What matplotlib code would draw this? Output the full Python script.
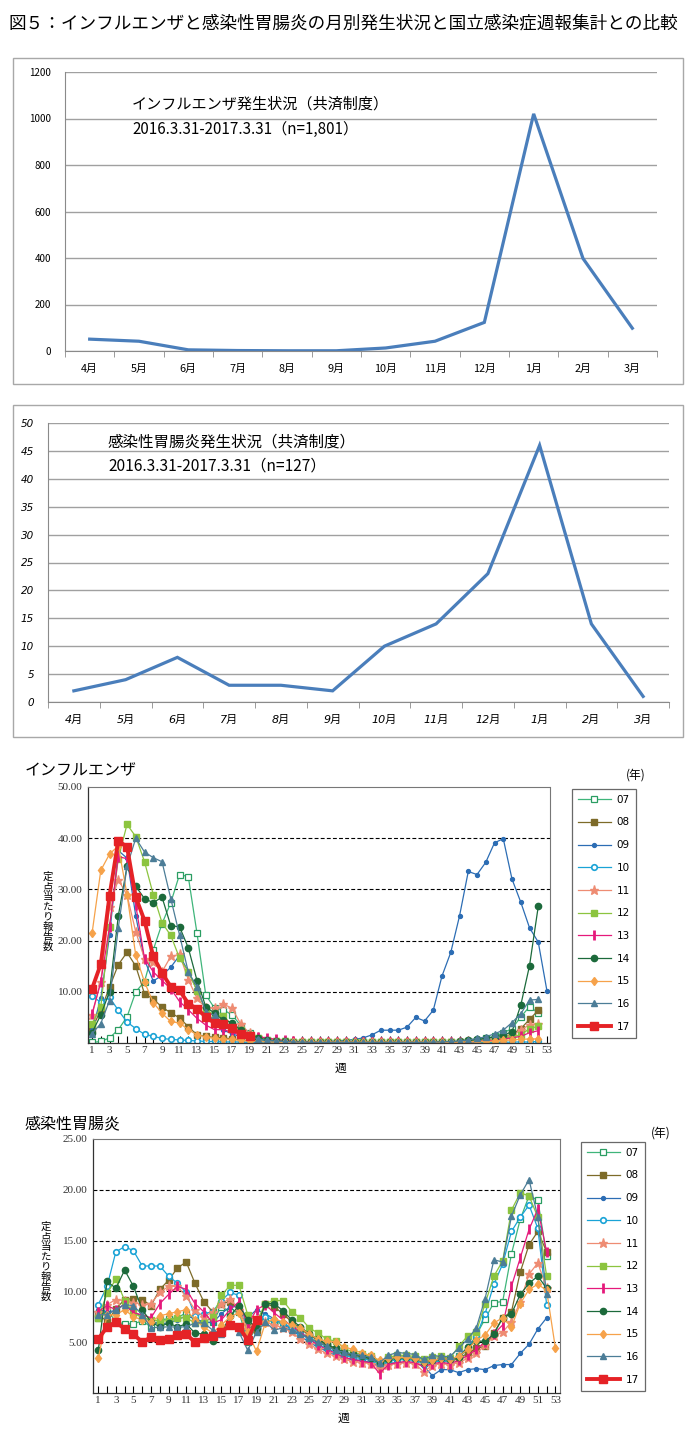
"""
Monthly influenza / gastroenteritis counts vs. national weekly surveillance reports.
"""

import numpy as np
import matplotlib.pyplot as plt
from matplotlib.patches import Rectangle

plt.rcParams['font.family'] = ['Noto Sans CJK JP', 'DejaVu Sans']

W, H = 689, 1454  # output size in pixels (dpi 100)

TITLE = "図５：インフルエンザと感染性胃腸炎の月別発生状況と国立感染症週報集計との比較"

MONTHS = ["4月", "5月", "6月", "7月", "8月", "9月", "10月", "11月", "12月", "1月", "2月", "3月"]
FLU_MONTHLY = [51, 42, 5, 2, 1, 1, 13, 42, 123, 1020, 398, 98]
GAS_MONTHLY = [2, 4, 8, 3, 3, 2, 10, 14, 23, 46, 14, 1]

WEEKS = np.arange(1, 54)
YEARS = ["07", "08", "09", "10", "11", "12", "13", "14", "15", "16", "17"]

# Influenza, reports per sentinel, week 1..53
FLU_07 = [0.1, 0.3, 1.0, 2.6, 5.1, 10.0, 12.0, 18.2, 23.3, 27.4, 32.9, 32.5, 21.4, 9.4, 6.8, 6.5, 5.5, 3.4, 1.9,
          1.0, 0.6, 0.4, 0.3, 0.2, 0.2, 0.1, 0.1, 0.1, 0.1, 0.1, 0.1, 0.1, 0.1, 0.1, 0.1, 0.1, 0.1, 0.1, 0.1, 0.1,
          0.1, 0.2, 0.2, 0.3, 0.6, 0.9, 1.3, 2.0, 2.8, 5.1, 7.1, 5.9]
FLU_08 = [2.8, 6.4, 10.9, 15.3, 17.7, 15.0, 9.6, 8.6, 7.0, 5.9, 4.9, 3.2, 1.6, 1.3, 1.1, 1.0, 0.8, 0.6, 0.4,
          0.3, 0.2, 0.2, 0.1, 0.1, 0.1, 0.1, 0.1, 0.1, 0.1, 0.1, 0.1, 0.1, 0.1, 0.1, 0.1, 0.1, 0.1, 0.1, 0.1, 0.1,
          0.1, 0.1, 0.2, 0.2, 0.3, 0.4, 0.6, 1.0, 1.7, 2.8, 4.6, 6.4]
FLU_09 = [2.5, 8.7, 21.0, 37.6, 36.1, 24.8, 16.2, 12.1, 13.2, 14.8, 17.1, 14.0, 10.3, 6.5, 4.0, 2.5, 1.8, 1.2, 0.8,
          0.5, 0.3, 0.3, 0.2, 0.2, 0.2, 0.2, 0.2, 0.3, 0.4, 0.5, 0.7, 1.0,
          1.6, 2.5, 2.5, 2.5, 3.1, 5.0, 4.3, 6.4, 13.1, 17.7, 24.8, 33.5, 32.9, 35.3, 39.1, 39.9, 32.0, 27.5,
          22.5, 19.7, 10.1]
FLU_10 = [9.1, 8.0, 8.9, 6.4, 4.1, 2.8, 1.7, 1.3, 0.9, 0.7, 0.6, 0.5, 0.4, 0.3, 0.3, 0.2, 0.2, 0.2, 0.1,
          0.1, 0.1, 0.1, 0.1, 0.1, 0.1, 0.1, 0.1, 0.1, 0.1, 0.1, 0.1, 0.1, 0.1, 0.1, 0.1, 0.1, 0.1, 0.1, 0.1, 0.1,
          0.1, 0.1, 0.1, 0.1, 0.1, 0.1, 0.1, 0.1, 0.2, 0.2, 0.2, 0.3]
FLU_11 = [5.4, 12.0, 26.6, 31.9, 28.9, 21.7, 16.5, 15.8, 13.9, 16.9, 17.3, 12.4, 8.7, 6.8, 6.8, 7.6, 6.8, 3.7, 1.9,
          1.2, 0.8, 0.5, 0.4, 0.3, 0.2, 0.2, 0.1, 0.1, 0.1, 0.1, 0.1, 0.1, 0.1, 0.1, 0.1, 0.1, 0.1, 0.1, 0.1, 0.1,
          0.2, 0.2, 0.2, 0.3, 0.4, 0.5, 0.7, 1.0, 1.5, 2.5, 3.6, 3.8]
FLU_12 = [3.8, 7.0, 22.7, 36.0, 42.7, 40.3, 35.4, 29.0, 23.5, 21.0, 16.6, 13.9, 10.2, 6.5, 5.5, 5.3, 3.5, 2.5, 1.5,
          0.9, 0.6, 0.4, 0.3, 0.2, 0.2, 0.1, 0.1, 0.1, 0.1, 0.1, 0.1, 0.1, 0.1, 0.1, 0.1, 0.1, 0.1, 0.1, 0.1, 0.1,
          0.1, 0.2, 0.2, 0.3, 0.3, 0.4, 0.6, 0.9, 1.2, 1.6, 2.8, 3.3]
FLU_13 = [5.7, 11.9, 22.7, 36.4, 36.0, 26.9, 16.5, 13.9, 12.2, 10.6, 8.1, 6.5, 4.8, 3.5, 2.6, 2.6, 2.1, 1.5, 1.1,
          1.2, 1.0, 0.7, 0.5, 0.3, 0.2, 0.2, 0.1, 0.1, 0.1, 0.1, 0.1, 0.1, 0.1, 0.1, 0.1, 0.1, 0.1, 0.1, 0.1, 0.1,
          0.1, 0.1, 0.2, 0.2, 0.3, 0.4, 0.5, 0.8, 1.0, 1.3, 2.0, 2.4]
FLU_14 = [2.0, 5.5, 10.0, 24.8, 34.5, 30.6, 28.2, 27.4, 28.5, 22.9, 22.7, 18.6, 12.2, 7.1, 5.8, 4.5, 4.0, 2.5, 1.5,
          1.0, 0.6, 0.4, 0.3, 0.2, 0.2, 0.1, 0.1, 0.1, 0.1, 0.1, 0.1, 0.1, 0.1, 0.1, 0.1, 0.1, 0.1, 0.1, 0.1, 0.1,
          0.2, 0.2, 0.3, 0.5, 0.7, 0.9, 1.2, 1.5, 2.2, 7.4, 15.1, 26.7]
FLU_15 = [21.4, 33.7, 36.9, 38.5, 29.0, 17.1, 11.9, 7.9, 5.8, 4.2, 3.9, 2.6, 1.6, 1.2, 0.9, 0.8, 0.7, 0.5, 0.4,
          0.3, 0.2, 0.2, 0.1, 0.1, 0.1, 0.1, 0.1, 0.1, 0.1, 0.1, 0.1, 0.1, 0.1, 0.1, 0.1, 0.1, 0.1, 0.1, 0.1, 0.1,
          0.1, 0.1, 0.2, 0.2, 0.3, 0.3, 0.4, 0.5, 0.6, 0.7, 0.8, 0.8]
FLU_16 = [1.8, 3.8, 8.3, 22.5, 34.5, 40.0, 37.3, 36.2, 35.4, 28.2, 21.1, 13.9, 11.0, 6.1, 5.4, 4.0, 3.0, 2.0, 1.3,
          0.8, 0.5, 0.4, 0.3, 0.2, 0.2, 0.1, 0.1, 0.1, 0.1, 0.1, 0.1, 0.1, 0.1, 0.1, 0.1, 0.1, 0.1, 0.1, 0.1, 0.2,
          0.2, 0.3, 0.4, 0.6, 0.9, 1.2, 1.8, 2.5, 4.0, 5.7, 8.4, 8.5]
FLU_17 = [10.6, 15.4, 28.8, 39.5, 38.3, 28.5, 23.9, 16.9, 13.7, 11.0, 10.3, 7.7, 6.7, 5.1, 3.9, 3.8, 2.9, 1.8, 1.3]

# Infectious gastroenteritis, reports per sentinel, week 1..53
GAS_07 = [7.4, 8.2, 7.0, 6.8, 6.8, 7.1, 6.5, 7.2, 7.3, 7.4, 7.9, 7.3, 6.9, 7.0, 8.5, 8.0, 8.0, 5.0, 6.5,
          7.2, 7.0, 6.8, 6.4, 5.9, 5.4, 5.0, 4.6, 4.2, 3.8, 3.6, 3.5, 3.3, 2.9, 3.2, 3.4, 3.4, 3.3, 3.1, 3.2,
          3.3, 3.2, 3.6, 4.2, 5.7, 7.3, 8.9, 9.0, 13.7, 17.1, 19.4, 19.0, 13.5]
GAS_08 = [7.8, 7.0, 8.3, 9.2, 9.3, 9.2, 8.6, 10.2, 11.1, 12.3, 12.9, 10.8, 9.0, 8.0, 8.8, 9.0, 8.1, 6.5, 6.2,
          8.8, 8.5, 7.8, 7.0, 6.3, 5.7, 5.2, 4.7, 4.3, 3.9, 3.7, 3.6, 3.4, 3.0, 3.3, 3.5, 3.4, 3.3, 3.0, 3.1,
          3.2, 3.1, 3.4, 3.9, 4.4, 4.6, 5.9, 7.4, 8.0, 11.9, 14.6, 15.9, 13.9]
GAS_09 = [8.2, 8.0, 8.1, 8.8, 7.9, 7.6, 7.0, 6.8, 6.9, 7.2, 7.6, 7.3, 7.0, 6.9, 7.8, 8.5, 8.5, 7.4, 8.2,
          7.8, 7.3, 6.8, 6.2, 5.6, 5.0, 4.5, 4.1, 3.7, 3.4, 3.3, 3.2, 3.0, 2.6, 2.9, 3.0, 3.0, 2.9, 2.7,
          1.7, 2.3, 2.3, 2.0, 2.3, 2.4, 2.3, 2.7, 2.8, 2.8, 3.9, 4.8, 6.3, 7.4]
GAS_10 = [8.7, 10.5, 13.9, 14.4, 14.0, 12.5, 12.5, 12.5, 11.5, 10.8, 9.9, 7.6, 7.8, 8.0, 9.1, 9.9, 9.6, 6.0, 7.0,
          7.5, 7.2, 6.9, 6.4, 5.8, 5.3, 4.8, 4.4, 4.0, 3.7, 3.5, 3.4, 3.2, 2.8, 3.1, 3.3, 3.3, 3.2, 2.9, 3.0,
          3.2, 3.1, 3.6, 4.5, 5.6, 7.8, 10.7, 12.7, 15.9, 17.3, 18.5, 16.2, 8.7]
GAS_11 = [8.0, 8.7, 9.2, 9.1, 8.9, 8.7, 8.8, 9.9, 10.5, 10.5, 9.5, 8.2, 7.5, 8.0, 8.8, 9.3, 8.2, 6.3, 7.2,
          7.0, 6.7, 6.4, 6.0, 5.3, 4.8, 4.3, 3.9, 3.6, 3.3, 3.1, 3.0, 2.9, 2.5, 2.8, 2.9, 3.0, 2.9, 2.1, 2.7,
          2.9, 2.8, 3.0, 3.4, 3.9, 4.7, 5.6, 6.0, 7.0, 9.0, 11.7, 12.8, 10.3]
GAS_12 = [7.4, 9.8, 11.2, 9.1, 7.9, 7.4, 7.2, 7.1, 7.1, 7.4, 7.4, 6.9, 6.9, 7.5, 9.6, 10.6, 10.6, 7.7, 7.0,
          8.8, 9.1, 9.1, 8.0, 7.4, 6.4, 5.9, 5.3, 5.1, 4.4, 4.0, 3.8, 3.6, 3.1, 3.5, 3.7, 3.7, 3.6, 3.3, 3.5,
          3.6, 3.4, 4.6, 5.6, 6.0, 8.8, 11.5, 13.0, 18.0, 19.7, 19.4, 17.3, 11.5]
GAS_13 = [8.0, 8.6, 8.2, 8.7, 7.9, 7.7, 7.4, 8.8, 9.7, 10.5, 10.2, 8.8, 8.0, 6.9, 7.2, 8.2, 9.0, 6.7, 8.2,
          8.7, 7.9, 7.2, 6.6, 6.0, 5.3, 4.7, 4.3, 3.9, 3.5, 3.3, 3.1, 3.0, 1.9, 2.8, 3.0, 3.1, 3.0, 2.6, 2.9,
          3.0, 2.9, 3.2, 3.7, 4.3, 5.0, 5.8, 6.7, 10.5, 13.3, 16.1, 18.1, 13.9]
GAS_14 = [4.2, 11.0, 10.3, 12.1, 10.5, 8.2, 7.0, 6.5, 6.9, 6.5, 6.8, 5.9, 5.8, 5.1, 5.9, 7.6, 8.6, 7.2, 6.4,
          8.8, 8.8, 8.1, 7.2, 6.5, 5.8, 5.3, 4.8, 4.4, 4.0, 3.8, 3.6, 3.4, 3.0, 3.3, 3.5, 3.5, 3.4, 3.1, 3.2,
          3.4, 3.3, 3.5, 4.5, 5.1, 5.1, 5.8, 7.4, 7.8, 9.7, 10.8, 11.5, 10.3]
GAS_15 = [3.4, 7.7, 7.7, 8.2, 7.5, 7.2, 7.0, 7.6, 7.8, 8.0, 8.2, 7.2, 6.5, 5.9, 6.7, 7.5, 7.9, 6.0, 4.1,
          6.9, 7.3, 7.0, 6.7, 6.4, 5.8, 5.3, 5.1, 5.0, 4.5, 4.3, 3.9, 3.7, 3.2, 3.4, 3.5, 3.5, 3.4, 3.1, 3.2,
          3.4, 3.3, 3.6, 4.3, 5.2, 5.7, 6.9, 7.4, 6.5, 8.8, 10.2, 10.7, 10.1, 4.4]
GAS_16 = [7.7, 7.7, 8.2, 8.7, 8.6, 7.7, 6.4, 6.5, 6.5, 6.5, 6.5, 6.9, 6.9, 6.2, 5.8, 6.7, 6.0, 4.2, 6.0,
          7.0, 6.2, 6.4, 6.2, 5.8, 5.4, 5.0, 4.6, 4.2, 4.0, 3.8, 3.7, 3.5, 3.0, 3.7, 4.0, 3.9, 3.8, 3.3, 3.7,
          3.6, 3.6, 4.4, 5.3, 6.4, 9.3, 13.1, 12.9, 17.4, 19.5, 21.0, 17.3, 9.7]
GAS_17 = [5.3, 6.5, 7.0, 6.3, 5.8, 5.0, 5.5, 5.2, 5.3, 5.7, 5.8, 5.0, 5.4, 5.6, 6.0, 6.7, 6.5, 5.2, 7.2]

FLU_WEEKLY = [FLU_07, FLU_08, FLU_09, FLU_10, FLU_11, FLU_12, FLU_13, FLU_14, FLU_15, FLU_16, FLU_17]
GAS_WEEKLY = [GAS_07, GAS_08, GAS_09, GAS_10, GAS_11, GAS_12, GAS_13, GAS_14, GAS_15, GAS_16, GAS_17]

STYLES = {
    "07": dict(color='#3fb57a', marker='s', mfc='white', mec='#2a9d62', ms=3.8, mew=0.9),
    "08": dict(color='#7d6b29', marker='s', ms=4.2),
    "09": dict(color='#2c6db4', marker='o', ms=2.8),
    "10": dict(color='#1aa3d6', marker='o', mfc='white', ms=4.0, mew=1.2),
    "11": dict(color='#ee8c73', marker='*', ms=6.5),
    "12": dict(color='#8cc43f', marker='s', ms=4.2),
    "13": dict(color='#e5197b', marker='|', ms=6.5, mew=2.0),
    "14": dict(color='#1c6a3b', marker='o', ms=4.5),
    "15": dict(color='#f6a24a', marker='d', ms=4.5),
    "16": dict(color='#4c7d97', marker='^', ms=4.2),
    "17": dict(color='#e52226', marker='s', ms=6.0, lw=2.8),
}

SERIF = 'Liberation Serif'


def box(l, t, r, b):
    """Pixel box (left, top, right, bottom) -> figure rect."""
    return [l / W, 1 - b / H, (r - l) / W, (b - t) / H]


def px(x, y):
    return x / W, 1 - y / H


def frame(fig, l, t, r, b):
    fig.add_artist(Rectangle(px(l, b), (r - l) / W, (b - t) / H, transform=fig.transFigure,
                             fill=False, ec='#a8a8a8', lw=1.0))


def monthly(ax, values, ymax, ystep, italic):
    style = 'italic' if italic else 'normal'
    fam = ['DejaVu Sans', 'Noto Sans CJK JP'] if italic else ['Noto Sans CJK JP', 'DejaVu Sans']
    x = np.arange(len(values))
    ax.plot(x, values, color='#4a7ebb', lw=2.3, solid_joinstyle='miter')
    ax.set_xlim(-0.5, len(values) - 0.5)
    ax.set_ylim(0, ymax)
    ax.set_yticks(np.arange(0, ymax + 1, ystep))
    ax.yaxis.grid(True, color='#a0a0a0', lw=1.0)
    ax.set_axisbelow(True)
    for s in ('top', 'right'):
        ax.spines[s].set_visible(False)
    for s in ('left', 'bottom'):
        ax.spines[s].set_color('#8a8a8a')
    ax.set_xticks(x)
    ax.set_xticklabels(MONTHS, fontsize=8 if italic else 7.8, style=style, family=fam)
    ax.set_xticks(np.arange(-0.5, len(values)), minor=True)
    ax.tick_params(axis='x', which='major', length=0, pad=9)
    ax.tick_params(axis='x', which='minor', length=4, color='#8a8a8a')
    ax.tick_params(axis='y', length=0, pad=10)
    for lab in ax.get_yticklabels():
        lab.set_fontsize(7.5 if italic else 7)
        lab.set_style(style)
        lab.set_family(fam)


def weekly(fig, ax, series, ymax, ystep, xlim, legend_at):
    for year, vals in zip(YEARS, series):
        st = dict(STYLES[year])
        lw = st.pop('lw', 0.9)
        ax.plot(WEEKS[:len(vals)], vals, lw=lw, label=year, **st)
    ax.set_xlim(*xlim)
    ax.set_ylim(0, ymax)
    ticks = np.arange(ystep, ymax + 0.1, ystep)
    ax.set_yticks(ticks)
    ax.set_yticklabels([f"{t:.2f}" for t in ticks], family=SERIF, fontsize=8, color='#333333')
    for g in ticks[:-1]:
        ax.axhline(g, color='black', lw=0.8, ls=(0, (3.5, 2)), zorder=0)
    ax.set_xticks(WEEKS)
    ax.set_xticklabels([str(w) if w % 2 else '' for w in WEEKS], family=SERIF, fontsize=8, color='#333333')
    ax.tick_params(axis='x', direction='in', length=5, width=0.8, pad=2)
    ax.tick_params(axis='y', length=0, pad=4)
    for s in ('top', 'right'):
        ax.spines[s].set_linestyle((0, (1, 1)))
        ax.spines[s].set_color('#777777')
        ax.spines[s].set_linewidth(0.8)
    for s in ('left', 'bottom'):
        ax.spines[s].set_color('#333333')
        ax.spines[s].set_linewidth(0.9)
    handles, labels = ax.get_legend_handles_labels()
    leg = fig.legend(handles, labels, loc='upper left', bbox_to_anchor=px(*legend_at),
                     bbox_transform=fig.transFigure, frameon=True, fancybox=False,
                     edgecolor='#444444', prop={'family': 'DejaVu Sans', 'size': 7.5},
                     handlelength=3.2, labelspacing=1.22, borderpad=0.55, handletextpad=0.55,
                     numpoints=1, borderaxespad=0)
    leg.get_frame().set_linewidth(0.9)


def main():
    fig = plt.figure(figsize=(W / 100, H / 100), dpi=100)

    fig.text(*px(8, 24), TITLE, fontsize=12.7, va='center', ha='left')

    # Monthly influenza (mutual aid scheme)
    frame(fig, 13, 58, 683, 384)
    ax1 = fig.add_axes(box(65, 72, 657, 351))
    monthly(ax1, FLU_MONTHLY, 1200, 200, italic=False)
    fig.text(*px(132, 104), "インフルエンザ発生状況（共済制度）", fontsize=10.9, va='center')
    fig.text(*px(132, 130), "2016.3.31-2017.3.31（n=1,801）", fontsize=10.9, va='center')

    # Monthly gastroenteritis
    frame(fig, 13, 405, 683, 737)
    ax2 = fig.add_axes(box(48, 423, 669, 702))
    monthly(ax2, GAS_MONTHLY, 50, 5, italic=True)
    fig.text(*px(108, 442), "感染性胃腸炎発生状況（共済制度）", fontsize=11.2, va='center')
    fig.text(*px(108, 466), "2016.3.31-2017.3.31（n=127）", fontsize=11.2, va='center')

    ylab = '\n'.join("定点当たり報告数")

    # Weekly influenza (national surveillance)
    fig.text(*px(25, 771), "インフルエンザ", fontsize=11.5, va='center')
    fig.text(*px(636, 775), "(年)", fontsize=8.5, ha='center', va='center')
    ax3 = fig.add_axes(box(88, 787, 550, 1043))
    weekly(fig, ax3, FLU_WEEKLY, 50, 10, (0.54, 53.34), (572, 789))
    fig.text(*px(48, 912), ylab, fontsize=7.5, linespacing=1.0, ha='center', va='center')
    fig.text(*px(340, 1068), "週", fontsize=8.5, ha='center', va='center')

    # Weekly gastroenteritis
    fig.text(*px(25, 1124), "感染性胃腸炎", fontsize=11.5, va='center')
    fig.text(*px(661, 1133), "(年)", fontsize=8.5, ha='center', va='center')
    ax4 = fig.add_axes(box(93, 1139, 560, 1393))
    weekly(fig, ax4, GAS_WEEKLY, 25, 5, (0.4, 53.52), (581, 1142))
    fig.text(*px(46, 1262), ylab, fontsize=7.5, linespacing=1.0, ha='center', va='center')
    fig.text(*px(343, 1418), "週", fontsize=8.5, ha='center', va='center')

    fig.savefig("out.png", dpi=100)


if __name__ == "__main__":
    main()
